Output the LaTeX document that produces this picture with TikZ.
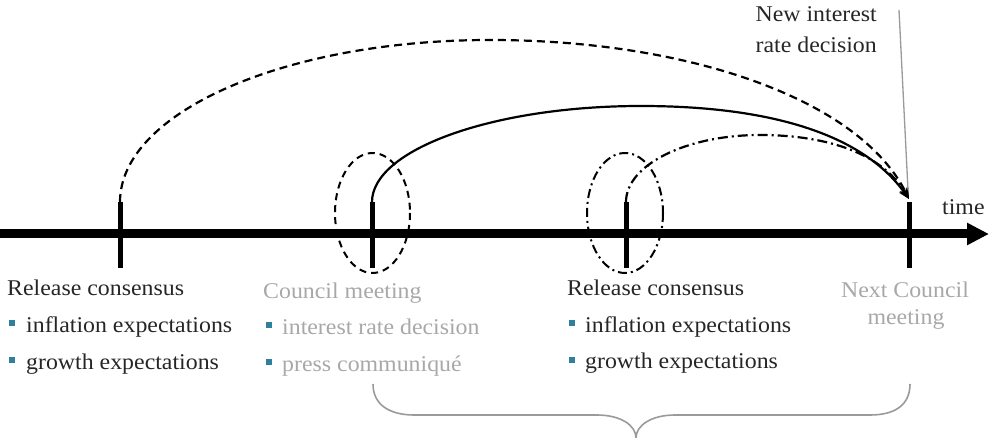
\documentclass[tikz,border=0pt]{standalone}
\usepackage{fontspec}
\setmainfont{Liberation Serif}[FakeStretch=1.06]
\usetikzlibrary{arrows.meta}
\definecolor{txtdark}{HTML}{262626}
\definecolor{txtgray}{HTML}{A8A8A8}
\definecolor{bulletc}{HTML}{2F7F9E}
\definecolor{linegray}{HTML}{9A9A9A}
\begin{document}
\begin{tikzpicture}[x=1pt,y=-1pt,
  lbl/.style={inner sep=0pt, font=\fontsize{22.5}{27}\selectfont, text=txtdark},
  glbl/.style={lbl, text=txtgray},
  bul/.style={fill=bulletc, draw=none, minimum size=6pt, inner sep=0pt, shape=rectangle},
  axisline/.style={line width=9pt, -{Triangle[length=22pt,width=21pt]}},
  tickline/.style={line width=5pt},
  curvearrow/.style={line width=2.2pt, -{Stealth[length=11pt,width=9pt]}},
  dashcurve/.style={curvearrow, dash pattern=on 8pt off 5pt},
  dashdotcurve/.style={curvearrow, dash pattern=on 10pt off 4pt on 2pt off 4pt},
  ringdash/.style={line width=2pt, dash pattern=on 7pt off 5pt},
  ringdashdot/.style={line width=2pt, dash pattern=on 9pt off 4pt on 2pt off 4pt},
  bracestyle/.style={draw=linegray, line width=1.6pt},
  pointer/.style={draw=linegray, line width=1.3pt}
]
\useasboundingbox (0,0) rectangle (989,438);

% axis
\coordinate (axL) at (0,234);
\coordinate (axR) at (989,234);
\draw[axisline] (axL) -- (axR);

% ticks
\coordinate (tA) at (120,202); \coordinate (tAb) at (120,268);
\coordinate (tB) at (372,202); \coordinate (tBb) at (372,268);
\coordinate (tC) at (626,202); \coordinate (tCb) at (626,268);
\coordinate (tD) at (909,202); \coordinate (tDb) at (909,268);
\draw[tickline] (tA) -- (tAb);
\draw[tickline] (tB) -- (tBb);
\draw[tickline] (tC) -- (tCb);
\draw[tickline] (tD) -- (tDb);

% ellipses
\draw[ringdash] (372.5,213) ellipse (37.5 and 60);
\draw[ringdashdot] (625,213) ellipse (38 and 60);

% curves
\coordinate (tip) at (909,199);
\coordinate (apexA) at (490,40);
\coordinate (apexB) at (641,106);
\coordinate (apexC) at (760,135);
\draw[dashcurve] (tA) .. controls (120,112) and (286,40) .. (apexA)
  .. controls (690,40) and (860,100) .. (tip);
\draw[curvearrow] (tB) .. controls (372,150) and (492,106) .. (apexB)
  .. controls (760,106) and (860,130) .. (tip);
\draw[dashdotcurve] (tC) .. controls (626,165) and (686,135) .. (apexC)
  .. controls (820,135) and (880,150) .. (tip);

% pointer
\coordinate (pTop) at (899,10);
\coordinate (pBot) at (908,190);
\draw[pointer] (pTop) -- (pBot);

% labels top
\node[lbl, anchor=base east] (ni1) at (877,22) {New interest};
\node[lbl, anchor=base east] (ni2) at (877,53) {rate decision};
\node[lbl, anchor=base west] (time) at (942,215) {time};

% group 1
\node[lbl, anchor=base west] (rc1) at (7,296) {Release consensus};
\node[bul] (b11) at (11.5,323) {};
\node[lbl, anchor=base west] (ie1) at (26,333) {inflation expectations};
\node[bul] (b12) at (11.5,360) {};
\node[lbl, anchor=base west] (ge1) at (26,370) {growth expectations};

% group 2
\node[glbl, anchor=base west] (cm) at (263,299) {Council meeting};
\node[bul] (b21) at (268.5,325) {};
\node[glbl, anchor=base west] (ird) at (282,335) {interest rate decision};
\node[bul] (b22) at (268.5,362) {};
\node[glbl, anchor=base west] (pc) at (282,372) {press communiqué};

% group 3
\node[lbl, anchor=base west] (rc2) at (567,296) {Release consensus};
\node[bul] (b31) at (572,323) {};
\node[lbl, anchor=base west] (ie2) at (585,333) {inflation expectations};
\node[bul] (b32) at (572,360) {};
\node[lbl, anchor=base west] (ge2) at (585,369) {growth expectations};

% group 4
\node[glbl, anchor=base] (nc1) at (905,298) {Next Council};
\node[glbl, anchor=base] (nc2) at (906,325) {meeting};

% brace
\coordinate (brL) at (373,384);
\coordinate (brM) at (636,438);
\coordinate (brR) at (910,384);
\draw[bracestyle] (brL) .. controls (373,405) and (390,415) .. (414,415)
  -- (597,415) .. controls (620,415) and (636,425) .. (brM)
  .. controls (636,425) and (652,415) .. (675,415)
  -- (870,415) .. controls (895,415) and (910,405) .. (brR);
\end{tikzpicture}
\end{document}
